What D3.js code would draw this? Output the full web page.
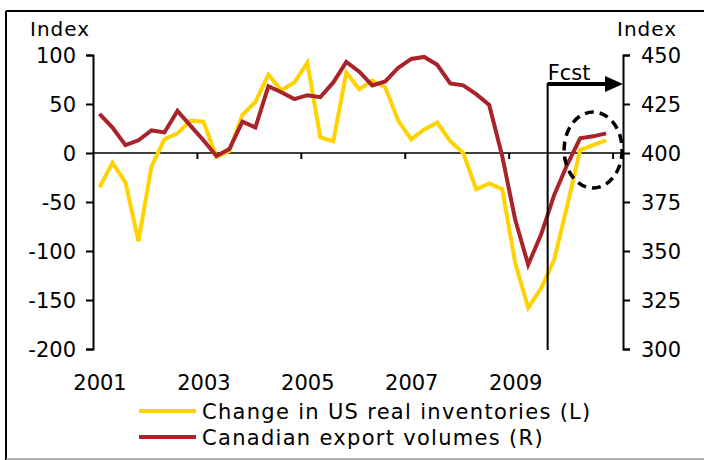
<!DOCTYPE html>
<html>
<head>
<meta charset="utf-8">
<script src="https://cdn.jsdelivr.net/npm/d3@7"></script>
<style>
  body { margin: 0; background: #fff; }
  svg text { font-family: "DejaVu Sans", Verdana, sans-serif; fill: #000; }
</style>
</head>
<body>
<div id="chart"></div>
<script>
// quarterly, 2001Q1 .. 2010Q4 (last five quarters are forecast)
const quarters = [];
for (let y = 2001; y <= 2010; y++) for (let q = 1; q <= 4; q++) quarters.push(y + "Q" + q);

const yearLabels = ["2001", "2003", "2005", "2007", "2009"];
const leftTicks = [100, 50, 0, -50, -100, -150, -200];
const rightTicks = [450, 425, 400, 375, 350, 325, 300];

// Change in US real inventories (L)
const usInventories = [
  -35, -10, -30, -90, -14, 14, 20, 33, 32, -4,
  2, 39, 52, 80, 64, 72, 92, 16, 12, 82,
  65, 74, 67, 33, 14, 24, 31, 12, 0, -37,
  -31, -37, -112, -158, -138, -109, -54, 3, 8, 13
];

// Canadian export volumes (R)
const cdnExports = [
  420, 413, 404, 406.5, 411.5, 410.5, 421.5, 414, 406.5, 398.5,
  402, 416, 413, 434, 431, 427.5, 429.5, 428.5, 436, 446.5,
  441.5, 434.5, 436.5, 443.5, 448, 449, 445, 435.5, 434.5, 430,
  424.5, 398.5, 366, 343, 358.5, 378.5, 394, 407.5, 408.5, 410
];

const forecastStart = "2009Q4";

const series = [
  {name: "Change in US real inventories (L)", values: usInventories, axis: "L", color: "#FFD200"},
  {name: "Canadian export volumes (R)", values: cdnExports, axis: "R", color: "#A8232A"}
];

class DualAxisChart {
  constructor(_config) {
    this.config = {
      parentElement: _config.parentElement,
      containerWidth: _config.containerWidth || 704,
      containerHeight: _config.containerHeight || 460,
      margin: _config.margin || {top: 55, right: 81, bottom: 111, left: 93}
    };
    this.initVis();
  }

  initVis() {
    let vis = this;
    const m = vis.config.margin;
    vis.width = vis.config.containerWidth - m.left - m.right;
    vis.height = vis.config.containerHeight - m.top - m.bottom;

    vis.root = d3.select(vis.config.parentElement)
      .append("svg")
      .attr("width", vis.config.containerWidth)
      .attr("height", vis.config.containerHeight);

    vis.svg = vis.root.append("g")
      .attr("transform", `translate(${m.left},${m.top})`);

    // categories sit between tick marks, the plot runs a little past the last one
    vis.xScale = d3.scaleLinear()
      .domain([-0.5, quarters.length + 0.3])
      .range([0, vis.width]);

    vis.yLeft = d3.scaleLinear().domain([-200, 100]).range([vis.height, 0]);
    vis.yRight = d3.scaleLinear().domain([300, 450]).range([vis.height, 0]);

    vis.renderVis();
  }

  renderVis() {
    let vis = this;

    // frame
    vis.root.append("line").attr("x1", 6).attr("x2", 704).attr("y1", 11).attr("y2", 11)
      .attr("stroke", "#000").attr("stroke-width", 2);
    vis.root.append("line").attr("x1", 6).attr("x2", 6).attr("y1", 11).attr("y2", 460)
      .attr("stroke", "#000").attr("stroke-width", 2);
    vis.root.append("line").attr("x1", 6).attr("x2", 704).attr("y1", 459).attr("y2", 459)
      .attr("stroke", "#999").attr("stroke-width", 1.5);

    const plain = d => String(d); // keep the hyphen minus of the original

    // left axis
    const leftAxis = vis.svg.append("g")
      .call(d3.axisLeft(vis.yLeft).tickValues(leftTicks).tickFormat(plain).tickSize(7).tickPadding(10));
    // right axis
    const rightAxis = vis.svg.append("g")
      .attr("transform", `translate(${vis.width},0)`)
      .call(d3.axisRight(vis.yRight).tickValues(rightTicks).tickFormat(plain).tickSize(7).tickPadding(11));

    [leftAxis, rightAxis].forEach(g => {
      g.select(".domain").attr("stroke", "#000").attr("stroke-width", 2);
      g.selectAll(".tick line").attr("stroke", "#000").attr("stroke-width", 2);
      g.selectAll(".tick text").style("font-size", "21px").attr("dy", "0.36em");
    });

    // zero line with category ticks
    const zeroY = vis.yLeft(0);
    const xTicks = vis.svg.append("g")
      .attr("transform", `translate(0,${zeroY})`)
      .call(d3.axisBottom(vis.xScale)
        .tickValues(d3.range(7.5, quarters.length, 8))
        .tickSize(6).tickFormat(""));
    xTicks.select(".domain").remove();
    xTicks.selectAll(".tick line").attr("stroke", "#000").attr("stroke-width", 2);
    vis.svg.append("line")
      .attr("x1", 0).attr("x2", vis.width).attr("y1", zeroY).attr("y2", zeroY)
      .attr("stroke", "#000").attr("stroke-width", 1.5);

    // year labels under the plot (first quarter of each odd year)
    const labelAxis = vis.svg.append("g")
      .attr("transform", `translate(0,${vis.height})`)
      .call(d3.axisBottom(vis.xScale)
        .tickValues(yearLabels.map(y => quarters.indexOf(y + "Q1")))
        .tickFormat(i => quarters[i].slice(0, 4))
        .tickSize(0).tickPadding(26));
    labelAxis.select(".domain").remove();
    labelAxis.selectAll(".tick text").style("font-size", "21px");

    // axis titles
    vis.root.append("text").attr("x", 30).attr("y", 36)
      .style("font-size", "20px").style("letter-spacing", "1px").text("Index");
    vis.root.append("text").attr("x", 617).attr("y", 36)
      .style("font-size", "20px").style("letter-spacing", "1px").text("Index");

    // series
    series.forEach(s => {
      const yS = s.axis === "L" ? vis.yLeft : vis.yRight;
      const line = d3.line()
        .x((d, i) => vis.xScale(i))
        .y(d => yS(d));
      vis.svg.append("path")
        .datum(s.values)
        .attr("fill", "none")
        .attr("stroke", s.color)
        .attr("stroke-width", 4)
        .attr("stroke-linejoin", "miter")
        .attr("d", line);
    });

    // forecast marker
    const fx = vis.xScale(quarters.indexOf(forecastStart) - 0.5);
    const arrowY = 29;
    vis.svg.append("line")
      .attr("x1", fx).attr("x2", fx).attr("y1", arrowY - 1).attr("y2", vis.height + 1)
      .attr("stroke", "#000").attr("stroke-width", 2);
    vis.svg.append("line")
      .attr("x1", fx).attr("x2", vis.width - 16).attr("y1", arrowY).attr("y2", arrowY)
      .attr("stroke", "#000").attr("stroke-width", 4);
    vis.svg.append("path")
      .attr("d", `M${vis.width - 18},${arrowY - 8}L${vis.width},${arrowY}L${vis.width - 18},${arrowY + 8}Z`)
      .attr("fill", "#000");
    vis.svg.append("text")
      .attr("x", fx).attr("y", arrowY - 4)
      .style("font-size", "21px").text("Fcst");

    // dashed ring around the forecast end points
    const lastI = quarters.length - 1;
    vis.svg.append("ellipse")
      .attr("cx", vis.xScale(lastI - 1))
      .attr("cy", vis.yLeft(0) - 3)
      .attr("rx", 29).attr("ry", 38)
      .attr("fill", "none")
      .attr("stroke", "#000")
      .attr("stroke-width", 3.5)
      .attr("stroke-dasharray", "9,6");

    // legend
    const legend = vis.root.append("g").attr("transform", "translate(139,0)");
    const rows = [411, 437];
    series.forEach((s, i) => {
      legend.append("line")
        .attr("x1", 0).attr("x2", 57).attr("y1", rows[i]).attr("y2", rows[i])
        .attr("stroke", s.color).attr("stroke-width", 4);
      legend.append("text")
        .attr("x", 63).attr("y", rows[i]).attr("dy", "0.36em")
        .style("font-size", "21px").style("letter-spacing", "1.3px")
        .text(s.name);
    });
  }
}

new DualAxisChart({parentElement: "#chart"});
</script>
</body>
</html>
